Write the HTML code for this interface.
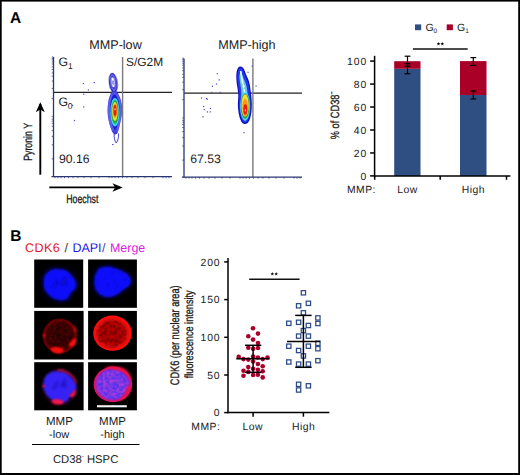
<!DOCTYPE html>
<html><head><meta charset="utf-8">
<style>
html,body{margin:0;padding:0;background:#fff;}
body{width:520px;height:475px;overflow:hidden;position:relative;}
svg{position:absolute;left:0;top:0;}
text{font-family:"Liberation Sans",sans-serif;fill:#1a1a1a;text-rendering:geometricPrecision;}
.nb{stroke:#1a1a1a;stroke-width:0.3px;}
.dg{letter-spacing:0.9px;}
.lb{letter-spacing:0.45px;}
</style></head>
<body>
<svg width="520" height="475" viewBox="0 0 520 475">
<defs>
  <filter id="bl1" x="-30%" y="-30%" width="160%" height="160%"><feGaussianBlur stdDeviation="0.6"/></filter>
  <filter id="bl15" x="-30%" y="-30%" width="160%" height="160%"><feGaussianBlur stdDeviation="0.9"/></filter>
  <filter id="er1" x="-30%" y="-30%" width="160%" height="160%"><feMorphology operator="erode" radius="1.2"/><feGaussianBlur stdDeviation="0.4"/></filter>
  <filter id="er2" x="-30%" y="-30%" width="160%" height="160%"><feMorphology operator="erode" radius="2.6"/><feGaussianBlur stdDeviation="0.5"/></filter>
  <filter id="er3" x="-30%" y="-30%" width="160%" height="160%"><feMorphology operator="erode" radius="3.2"/><feGaussianBlur stdDeviation="0.6"/></filter>
  <filter id="bl05" x="-30%" y="-30%" width="160%" height="160%"><feGaussianBlur stdDeviation="0.4"/></filter>
  <filter id="bl2" x="-30%" y="-30%" width="160%" height="160%"><feGaussianBlur stdDeviation="1.2"/></filter>
  <filter id="bl3" x="-30%" y="-30%" width="160%" height="160%"><feGaussianBlur stdDeviation="2"/></filter>
  <filter id="tex" x="-20%" y="-20%" width="140%" height="140%">
    <feTurbulence type="fractalNoise" baseFrequency="0.45" numOctaves="2" seed="4" result="n"/>
    <feColorMatrix in="n" type="matrix" values="0 0 0 0 0  0 0 0 0 0  0 0 0 0 0  2.2 0 0 0 -0.6" result="na"/>
    <feComposite in="SourceGraphic" in2="na" operator="in" result="c"/>
    <feGaussianBlur in="c" stdDeviation="0.5"/>
  </filter>
  <filter id="tex2" x="-20%" y="-20%" width="140%" height="140%">
    <feGaussianBlur in="SourceGraphic" stdDeviation="1.2" result="b"/>
    <feTurbulence type="fractalNoise" baseFrequency="0.3" numOctaves="2" seed="7" result="n"/>
    <feColorMatrix in="n" type="matrix" values="0 0 0 0 0  0 0 0 0 0  0 0 0 0 0  1.8 0 0 0 -0.55" result="na"/>
    <feComposite in="b" in2="na" operator="in" result="c"/>
    <feGaussianBlur in="c" stdDeviation="0.7"/>
  </filter>
  <filter id="tex3" x="-20%" y="-20%" width="140%" height="140%">
    <feGaussianBlur in="SourceGraphic" stdDeviation="1.2" result="b"/>
    <feTurbulence type="fractalNoise" baseFrequency="0.3" numOctaves="2" seed="11" result="n"/>
    <feColorMatrix in="n" type="matrix" values="0 0 0 0 0  0 0 0 0 0  0 0 0 0 0  1.8 0 0 0 -0.5" result="na"/>
    <feComposite in="b" in2="na" operator="in" result="c"/>
    <feGaussianBlur in="c" stdDeviation="0.7"/>
  </filter>
  <radialGradient id="rg1"><stop offset="0" stop-color="#1c0000"/><stop offset="0.75" stop-color="#2a0000"/><stop offset="0.9" stop-color="#700000"/><stop offset="1" stop-color="#580000"/></radialGradient>
  <radialGradient id="rg2"><stop offset="0" stop-color="#b00000"/><stop offset="0.7" stop-color="#c00606"/><stop offset="0.86" stop-color="#f01010"/><stop offset="1" stop-color="#ff1010"/></radialGradient>
  <radialGradient id="rg3"><stop offset="0" stop-color="#4a30f0"/><stop offset="0.8" stop-color="#5a30ea"/><stop offset="0.9" stop-color="#c01890"/><stop offset="1" stop-color="#e81048"/></radialGradient>
  <filter id="tex4" x="-20%" y="-20%" width="140%" height="140%">
    <feGaussianBlur in="SourceGraphic" stdDeviation="1.2" result="b"/>
    <feTurbulence type="fractalNoise" baseFrequency="0.28" numOctaves="2" seed="21" result="n"/>
    <feColorMatrix in="n" type="matrix" values="0 0 0 0 0  0 0 0 0 0  0 0 0 0 0  2.2 0 0 0 -0.75" result="na"/>
    <feComposite in="b" in2="na" operator="in" result="c"/>
    <feGaussianBlur in="c" stdDeviation="0.6"/>
  </filter>
  <marker id="ah" viewBox="0 0 10 10" refX="9" refY="5" markerWidth="10" markerHeight="9" markerUnits="userSpaceOnUse" orient="auto">
    <path d="M0,0 L10,5 L0,10 L3,5 Z" fill="#000"/>
  </marker>
</defs>
<rect x="0" y="0" width="520" height="475" fill="#fff"/>

<!-- ============ PANEL A ============ -->
<text x="9.9" y="22.8" font-size="15.5" font-weight="bold" style="fill:#000">A</text>

<!-- titles -->
<text x="115.5" y="48.9" font-size="12.6" text-anchor="middle">MMP-low</text>
<text x="246.9" y="48.8" font-size="12.6" text-anchor="middle">MMP-high</text>

<!-- Flow plot 1 -->
<g id="fp1">
  <!-- gates -->
  <line x1="53.5" y1="92.4" x2="172" y2="92.4" stroke="#222" stroke-width="1.2"/>
  <line x1="122.6" y1="57" x2="122.6" y2="176.5" stroke="#7a7a7a" stroke-width="1.4"/>
  <!-- axes -->
  <line x1="53.5" y1="57" x2="53.5" y2="177" stroke="#2a3572" stroke-width="1.3"/>
  <line x1="51.5" y1="176.6" x2="172" y2="176.6" stroke="#2a3572" stroke-width="1.3"/>
  <g stroke="#2a3572" stroke-width="0.7"><line x1="51.7" y1="57.0" x2="53.5" y2="57.0"/>
<line x1="51.7" y1="58.5" x2="53.5" y2="58.5"/>
<line x1="51.7" y1="60.0" x2="53.5" y2="60.0"/>
<line x1="51.7" y1="62.0" x2="53.5" y2="62.0"/>
<line x1="51.7" y1="64.0" x2="53.5" y2="64.0"/>
<line x1="51.7" y1="66.8" x2="53.5" y2="66.8"/>
<line x1="51.7" y1="69.5" x2="53.5" y2="69.5"/>
<line x1="51.7" y1="72.9" x2="53.5" y2="72.9"/>
<line x1="51.7" y1="76.2" x2="53.5" y2="76.2"/>
<line x1="51.7" y1="81.0" x2="53.5" y2="81.0"/>
<line x1="51.7" y1="88.4" x2="53.5" y2="88.4"/>
<line x1="51.7" y1="98.5" x2="53.5" y2="98.5"/>
<line x1="51.7" y1="116.7" x2="53.5" y2="116.7"/>
<line x1="51.7" y1="119.2" x2="53.5" y2="119.2"/>
<line x1="51.7" y1="121.1" x2="53.5" y2="121.1"/>
<line x1="51.7" y1="123.3" x2="53.5" y2="123.3"/>
<line x1="51.7" y1="126.3" x2="53.5" y2="126.3"/>
<line x1="51.7" y1="130.4" x2="53.5" y2="130.4"/>
<line x1="51.7" y1="136.4" x2="53.5" y2="136.4"/>
<line x1="51.7" y1="144.8" x2="53.5" y2="144.8"/>
<line x1="51.7" y1="158.9" x2="53.5" y2="158.9"/>
<line x1="55.0" y1="176.6" x2="55.0" y2="178.2"/>
<line x1="58.0" y1="176.6" x2="58.0" y2="178.2"/>
<line x1="61.0" y1="176.6" x2="61.0" y2="178.2"/>
<line x1="64.5" y1="176.6" x2="64.5" y2="178.2"/>
<line x1="68.5" y1="176.6" x2="68.5" y2="178.2"/>
<line x1="73.0" y1="176.6" x2="73.0" y2="178.2"/>
<line x1="78.0" y1="176.6" x2="78.0" y2="178.2"/>
<line x1="84.0" y1="176.6" x2="84.0" y2="178.2"/>
<line x1="91.0" y1="176.6" x2="91.0" y2="178.2"/>
<line x1="99.0" y1="176.6" x2="99.0" y2="178.2"/>
<line x1="109.0" y1="176.6" x2="109.0" y2="178.2"/>
<line x1="112.0" y1="176.6" x2="112.0" y2="178.2"/>
<line x1="115.0" y1="176.6" x2="115.0" y2="178.2"/>
<line x1="118.5" y1="176.6" x2="118.5" y2="178.2"/>
<line x1="122.5" y1="176.6" x2="122.5" y2="178.2"/>
<line x1="127.0" y1="176.6" x2="127.0" y2="178.2"/>
<line x1="132.0" y1="176.6" x2="132.0" y2="178.2"/>
<line x1="138.0" y1="176.6" x2="138.0" y2="178.2"/>
<line x1="145.0" y1="176.6" x2="145.0" y2="178.2"/>
<line x1="153.0" y1="176.6" x2="153.0" y2="178.2"/>
<line x1="163.0" y1="176.6" x2="163.0" y2="178.2"/>
<line x1="166.0" y1="176.6" x2="166.0" y2="178.2"/>
<line x1="169.0" y1="176.6" x2="169.0" y2="178.2"/></g>
  <!-- blob -->
<g>
  <g transform="rotate(-7 113.2 82.5)">
    <ellipse cx="113.2" cy="82.8" rx="4.4" ry="10.1" fill="#2626c8" filter="url(#bl05)"/>
    <ellipse cx="113.2" cy="82.6" rx="3.1" ry="8.4" fill="#7c7ce8" filter="url(#bl05)"/>
    <ellipse cx="113.2" cy="82.5" rx="2.4" ry="6.9" fill="#3a3ad0" filter="url(#bl05)"/>
    <ellipse cx="113.1" cy="82.2" rx="1.6" ry="5.0" fill="#ffffff" filter="url(#bl05)"/>
    <ellipse cx="113.1" cy="82.6" rx="0.6" ry="2.1" fill="none" stroke="#4040d4" stroke-width="0.6"/>
  </g>
  <path d="M112.00,91.60 C112.67,90.92 113.45,90.90 114.20,90.90 C114.95,90.90 115.73,90.92 116.50,91.60 C117.27,92.28 118.08,93.60 118.80,95.00 C119.52,96.40 120.28,98.17 120.80,100.00 C121.32,101.83 121.70,104.00 121.90,106.00 C122.10,108.00 122.12,110.00 122.00,112.00 C121.88,114.00 121.53,116.00 121.20,118.00 C120.87,120.00 120.43,122.08 120.00,124.00 C119.57,125.92 119.05,127.95 118.60,129.50 C118.15,131.05 117.87,132.48 117.30,133.30 C116.73,134.12 115.88,134.40 115.20,134.40 C114.52,134.40 113.85,134.12 113.20,133.30 C112.55,132.48 111.92,131.05 111.30,129.50 C110.68,127.95 110.02,125.92 109.50,124.00 C108.98,122.08 108.52,120.00 108.20,118.00 C107.88,116.00 107.67,114.00 107.60,112.00 C107.53,110.00 107.63,108.00 107.80,106.00 C107.97,104.00 108.20,101.83 108.60,100.00 C109.00,98.17 109.63,96.40 110.20,95.00 C110.77,93.60 111.33,92.28 112.00,91.60 Z" fill="#1a1ad8" filter="url(#bl05)"/>
  <path d="M112.20,92.43 C112.82,91.78 113.54,91.76 114.24,91.76 C114.94,91.76 115.67,91.78 116.38,92.43 C117.09,93.08 117.85,94.34 118.52,95.67 C119.19,97.01 119.90,98.70 120.38,100.45 C120.86,102.20 121.22,104.27 121.40,106.18 C121.59,108.09 121.60,110.00 121.50,111.91 C121.39,113.82 121.06,115.73 120.75,117.64 C120.44,119.55 120.04,121.54 119.64,123.37 C119.23,125.20 118.75,127.14 118.33,128.62 C117.92,130.10 117.65,131.47 117.12,132.25 C116.60,133.03 115.81,133.30 115.17,133.30 C114.54,133.30 113.92,133.03 113.31,132.25 C112.71,131.47 112.12,130.10 111.55,128.62 C110.97,127.14 110.35,125.20 109.87,123.37 C109.39,121.54 108.96,119.55 108.66,117.64 C108.37,115.73 108.17,113.82 108.10,111.91 C108.04,110.00 108.13,108.09 108.29,106.18 C108.44,104.27 108.66,102.20 109.03,100.45 C109.41,98.70 110.00,97.01 110.52,95.67 C111.05,94.34 111.58,93.08 112.20,92.43 Z" fill="none" stroke="#8a8af0" stroke-width="0.45"/>
  <path d="M112.39,93.26 C112.97,92.63 113.64,92.62 114.28,92.62 C114.93,92.62 115.60,92.63 116.26,93.26 C116.92,93.88 117.62,95.08 118.24,96.35 C118.86,97.62 119.52,99.23 119.96,100.90 C120.40,102.57 120.73,104.54 120.91,106.36 C121.08,108.18 121.09,110.00 120.99,111.82 C120.89,113.64 120.59,115.46 120.30,117.28 C120.02,119.10 119.64,121.00 119.27,122.74 C118.90,124.48 118.45,126.33 118.07,127.75 C117.68,129.16 117.44,130.46 116.95,131.20 C116.46,131.95 115.73,132.20 115.14,132.20 C114.56,132.20 113.98,131.95 113.42,131.20 C112.87,130.46 112.32,129.16 111.79,127.75 C111.26,126.33 110.69,124.48 110.24,122.74 C109.80,121.00 109.40,119.10 109.12,117.28 C108.85,115.46 108.67,113.64 108.61,111.82 C108.55,110.00 108.64,108.18 108.78,106.36 C108.92,104.54 109.12,102.57 109.47,100.90 C109.81,99.23 110.36,97.62 110.84,96.35 C111.33,95.08 111.82,93.88 112.39,93.26 Z" fill="none" stroke="#8a8af0" stroke-width="0.45"/>
  <path d="M112.59,94.08 C113.11,93.49 113.73,93.48 114.33,93.48 C114.92,93.48 115.54,93.49 116.14,94.08 C116.75,94.68 117.39,95.81 117.96,97.03 C118.53,98.24 119.13,99.76 119.54,101.35 C119.95,102.94 120.25,104.81 120.41,106.54 C120.57,108.27 120.58,110.00 120.49,111.73 C120.40,113.46 120.12,115.19 119.86,116.92 C119.59,118.65 119.25,120.45 118.91,122.11 C118.57,123.77 118.16,125.53 117.80,126.87 C117.45,128.21 117.22,129.45 116.77,130.15 C116.33,130.86 115.66,131.11 115.12,131.11 C114.58,131.11 114.05,130.86 113.54,130.15 C113.02,129.45 112.52,128.21 112.03,126.87 C111.55,125.53 111.02,123.77 110.61,122.11 C110.20,120.45 109.84,118.65 109.59,116.92 C109.34,115.19 109.16,113.46 109.11,111.73 C109.06,110.00 109.14,108.27 109.27,106.54 C109.40,104.81 109.59,102.94 109.90,101.35 C110.22,99.76 110.72,98.24 111.17,97.03 C111.61,95.81 112.06,94.68 112.59,94.08 Z" fill="none" stroke="#8a8af0" stroke-width="0.45"/>
  <path d="M112.78,94.91 C113.26,94.35 113.83,94.34 114.37,94.34 C114.91,94.34 115.47,94.35 116.02,94.91 C116.58,95.47 117.16,96.55 117.68,97.70 C118.20,98.85 118.75,100.30 119.12,101.80 C119.49,103.30 119.77,105.08 119.91,106.72 C120.06,108.36 120.07,110.00 119.98,111.64 C119.90,113.28 119.65,114.92 119.41,116.56 C119.17,118.20 118.86,119.91 118.54,121.48 C118.23,123.05 117.86,124.72 117.54,125.99 C117.21,127.26 117.01,128.44 116.60,129.11 C116.19,129.78 115.58,130.01 115.09,130.01 C114.60,130.01 114.12,129.78 113.65,129.11 C113.18,128.44 112.72,127.26 112.28,125.99 C111.84,124.72 111.36,123.05 110.98,121.48 C110.61,119.91 110.28,118.20 110.05,116.56 C109.82,114.92 109.66,113.28 109.62,111.64 C109.57,110.00 109.64,108.36 109.76,106.72 C109.88,105.08 110.05,103.30 110.34,101.80 C110.62,100.30 111.08,98.85 111.49,97.70 C111.90,96.55 112.30,95.47 112.78,94.91 Z" fill="none" stroke="#8a8af0" stroke-width="0.45"/>
  <ellipse cx="114.9" cy="112.2" rx="4.6" ry="14.2" fill="#38d6f0" filter="url(#bl05)"/>
  <ellipse cx="115" cy="112" rx="3.6" ry="12" fill="#2aa838" filter="url(#bl05)"/>
  <ellipse cx="114.9" cy="111.5" rx="2.7" ry="9.5" fill="#f2e22a" filter="url(#bl05)"/>
  <ellipse cx="115" cy="111" rx="2.1" ry="7.2" fill="#ff8a18" filter="url(#bl05)"/>
  <ellipse cx="115" cy="110.5" rx="1.5" ry="5.4" fill="#ee1414" filter="url(#bl05)"/>
  <ellipse cx="115" cy="109.2" rx="0.6" ry="1.3" fill="#ffb8c8"/>
  <path d="M114.3,133.5 C113.8,137 114.5,141 116.2,143 C118,141 118.8,137 118.6,133.5" fill="none" stroke="#3030d0" stroke-width="0.9"/>
  <circle cx="112.8" cy="144.6" r="0.5" fill="#6060d0"/>
</g>
  <text x="58.4" y="65.9" font-size="12.3">G</text><text x="68" y="68.7" font-size="8.5">1</text>
  <text x="58.4" y="106" font-size="12.3">G</text><text x="67.8" y="109.1" font-size="8.5">0</text>
  <text x="126.1" y="65.7" font-size="11.9">S/G2M</text>
  <text x="59" y="163" font-size="12.2">90.16</text>
</g>

<!-- Flow plot 2 -->
<g id="fp2">
  <line x1="184" y1="93.1" x2="302" y2="93.1" stroke="#222" stroke-width="1.2"/>
  <line x1="252.9" y1="58.5" x2="252.9" y2="177" stroke="#7a7a7a" stroke-width="1.4"/>
  <line x1="184" y1="58.5" x2="184" y2="177.5" stroke="#2a3572" stroke-width="1.3"/>
  <line x1="182" y1="177.1" x2="302" y2="177.1" stroke="#2a3572" stroke-width="1.3"/>
  <g stroke="#2a3572" stroke-width="0.7"><line x1="182.2" y1="58.2" x2="184" y2="58.2"/>
<line x1="182.2" y1="59.7" x2="184" y2="59.7"/>
<line x1="182.2" y1="61.2" x2="184" y2="61.2"/>
<line x1="182.2" y1="63.2" x2="184" y2="63.2"/>
<line x1="182.2" y1="65.2" x2="184" y2="65.2"/>
<line x1="182.2" y1="68.0" x2="184" y2="68.0"/>
<line x1="182.2" y1="70.7" x2="184" y2="70.7"/>
<line x1="182.2" y1="74.1" x2="184" y2="74.1"/>
<line x1="182.2" y1="77.4" x2="184" y2="77.4"/>
<line x1="182.2" y1="82.2" x2="184" y2="82.2"/>
<line x1="182.2" y1="89.6" x2="184" y2="89.6"/>
<line x1="182.2" y1="99.7" x2="184" y2="99.7"/>
<line x1="182.2" y1="117.9" x2="184" y2="117.9"/>
<line x1="182.2" y1="120.4" x2="184" y2="120.4"/>
<line x1="182.2" y1="122.3" x2="184" y2="122.3"/>
<line x1="182.2" y1="124.5" x2="184" y2="124.5"/>
<line x1="182.2" y1="127.5" x2="184" y2="127.5"/>
<line x1="182.2" y1="131.6" x2="184" y2="131.6"/>
<line x1="182.2" y1="137.6" x2="184" y2="137.6"/>
<line x1="182.2" y1="146.0" x2="184" y2="146.0"/>
<line x1="182.2" y1="160.1" x2="184" y2="160.1"/>
<line x1="186.0" y1="177.1" x2="186.0" y2="178.7"/>
<line x1="189.0" y1="177.1" x2="189.0" y2="178.7"/>
<line x1="192.0" y1="177.1" x2="192.0" y2="178.7"/>
<line x1="195.5" y1="177.1" x2="195.5" y2="178.7"/>
<line x1="199.5" y1="177.1" x2="199.5" y2="178.7"/>
<line x1="204.0" y1="177.1" x2="204.0" y2="178.7"/>
<line x1="209.0" y1="177.1" x2="209.0" y2="178.7"/>
<line x1="215.0" y1="177.1" x2="215.0" y2="178.7"/>
<line x1="222.0" y1="177.1" x2="222.0" y2="178.7"/>
<line x1="230.0" y1="177.1" x2="230.0" y2="178.7"/>
<line x1="240.0" y1="177.1" x2="240.0" y2="178.7"/>
<line x1="243.0" y1="177.1" x2="243.0" y2="178.7"/>
<line x1="246.0" y1="177.1" x2="246.0" y2="178.7"/>
<line x1="249.5" y1="177.1" x2="249.5" y2="178.7"/>
<line x1="253.5" y1="177.1" x2="253.5" y2="178.7"/>
<line x1="258.0" y1="177.1" x2="258.0" y2="178.7"/>
<line x1="263.0" y1="177.1" x2="263.0" y2="178.7"/>
<line x1="269.0" y1="177.1" x2="269.0" y2="178.7"/>
<line x1="276.0" y1="177.1" x2="276.0" y2="178.7"/>
<line x1="284.0" y1="177.1" x2="284.0" y2="178.7"/>
<line x1="294.0" y1="177.1" x2="294.0" y2="178.7"/>
<line x1="297.0" y1="177.1" x2="297.0" y2="178.7"/>
<line x1="300.0" y1="177.1" x2="300.0" y2="178.7"/></g>
<g>
  <path d="M240.40,66.50 C241.18,66.55 242.27,67.05 243.00,67.80 C243.73,68.55 244.22,69.72 244.80,71.00 C245.38,72.28 245.88,74.00 246.50,75.50 C247.12,77.00 247.95,78.42 248.50,80.00 C249.05,81.58 249.47,83.33 249.80,85.00 C250.13,86.67 250.25,88.17 250.50,90.00 C250.75,91.83 251.08,93.83 251.30,96.00 C251.52,98.17 251.75,100.67 251.80,103.00 C251.85,105.33 251.82,107.67 251.60,110.00 C251.38,112.33 251.05,114.95 250.50,117.00 C249.95,119.05 249.17,121.13 248.30,122.30 C247.43,123.47 246.35,123.97 245.30,124.00 C244.25,124.03 242.97,123.67 242.00,122.50 C241.03,121.33 240.13,119.08 239.50,117.00 C238.87,114.92 238.47,112.33 238.20,110.00 C237.93,107.67 237.88,105.33 237.90,103.00 C237.92,100.67 238.32,98.17 238.30,96.00 C238.28,93.83 238.05,92.00 237.80,90.00 C237.55,88.00 237.05,86.17 236.80,84.00 C236.55,81.83 236.30,79.17 236.30,77.00 C236.30,74.83 236.47,72.58 236.80,71.00 C237.13,69.42 237.70,68.25 238.30,67.50 C238.90,66.75 239.62,66.45 240.40,66.50 Z" fill="#1010bc" filter="url(#bl05)"/>
  <path d="M240.40,66.50 C241.18,66.55 242.27,67.05 243.00,67.80 C243.73,68.55 244.22,69.72 244.80,71.00 C245.38,72.28 245.88,74.00 246.50,75.50 C247.12,77.00 247.95,78.42 248.50,80.00 C249.05,81.58 249.47,83.33 249.80,85.00 C250.13,86.67 250.25,88.17 250.50,90.00 C250.75,91.83 251.08,93.83 251.30,96.00 C251.52,98.17 251.75,100.67 251.80,103.00 C251.85,105.33 251.82,107.67 251.60,110.00 C251.38,112.33 251.05,114.95 250.50,117.00 C249.95,119.05 249.17,121.13 248.30,122.30 C247.43,123.47 246.35,123.97 245.30,124.00 C244.25,124.03 242.97,123.67 242.00,122.50 C241.03,121.33 240.13,119.08 239.50,117.00 C238.87,114.92 238.47,112.33 238.20,110.00 C237.93,107.67 237.88,105.33 237.90,103.00 C237.92,100.67 238.32,98.17 238.30,96.00 C238.28,93.83 238.05,92.00 237.80,90.00 C237.55,88.00 237.05,86.17 236.80,84.00 C236.55,81.83 236.30,79.17 236.30,77.00 C236.30,74.83 236.47,72.58 236.80,71.00 C237.13,69.42 237.70,68.25 238.30,67.50 C238.90,66.75 239.62,66.45 240.40,66.50 Z" fill="#2038f4" filter="url(#er1)"/>
  <path d="M240.40,66.50 C241.18,66.55 242.27,67.05 243.00,67.80 C243.73,68.55 244.22,69.72 244.80,71.00 C245.38,72.28 245.88,74.00 246.50,75.50 C247.12,77.00 247.95,78.42 248.50,80.00 C249.05,81.58 249.47,83.33 249.80,85.00 C250.13,86.67 250.25,88.17 250.50,90.00 C250.75,91.83 251.08,93.83 251.30,96.00 C251.52,98.17 251.75,100.67 251.80,103.00 C251.85,105.33 251.82,107.67 251.60,110.00 C251.38,112.33 251.05,114.95 250.50,117.00 C249.95,119.05 249.17,121.13 248.30,122.30 C247.43,123.47 246.35,123.97 245.30,124.00 C244.25,124.03 242.97,123.67 242.00,122.50 C241.03,121.33 240.13,119.08 239.50,117.00 C238.87,114.92 238.47,112.33 238.20,110.00 C237.93,107.67 237.88,105.33 237.90,103.00 C237.92,100.67 238.32,98.17 238.30,96.00 C238.28,93.83 238.05,92.00 237.80,90.00 C237.55,88.00 237.05,86.17 236.80,84.00 C236.55,81.83 236.30,79.17 236.30,77.00 C236.30,74.83 236.47,72.58 236.80,71.00 C237.13,69.42 237.70,68.25 238.30,67.50 C238.90,66.75 239.62,66.45 240.40,66.50 Z" fill="#68c8f8" filter="url(#er2)"/>
  <path d="M240.6,71 C241.5,76 242.5,82 243.6,88 C244.2,90 244.6,92 245,94" fill="none" stroke="#e8fcff" stroke-width="1.6" filter="url(#bl05)"/>
  <ellipse cx="243.7" cy="86.2" rx="1.5" ry="2.6" fill="none" stroke="#70d070" stroke-width="0.7" filter="url(#bl05)"/>
  <ellipse cx="243.7" cy="86.2" rx="0.9" ry="1.8" fill="#ffffff"/>
  <ellipse cx="245.1" cy="106.5" rx="5.0" ry="14.2" fill="#50d8f0" filter="url(#bl05)"/>
  <ellipse cx="245.1" cy="106" rx="4.3" ry="12.6" fill="#2aa030" filter="url(#bl05)"/>
  <ellipse cx="245.1" cy="105.5" rx="3.6" ry="11.2" fill="#f0e030" filter="url(#bl05)"/>
  <ellipse cx="245.2" cy="107.5" rx="2.8" ry="8.7" fill="#ff9420" filter="url(#bl05)"/>
  <ellipse cx="245.3" cy="109.5" rx="1.9" ry="5.2" fill="#ee1414" filter="url(#bl05)"/>
  <ellipse cx="245.5" cy="110.3" rx="0.6" ry="1.2" fill="#ffc0d0"/>
</g>
  <text x="190.2" y="162.5" font-size="12.2">67.53</text>
</g>

<g fill="#4a4ad0"><rect x="82.8" y="83.0" width="1.2" height="1.2"/><rect x="93.7" y="82.0" width="1.2" height="1.2"/><rect x="87.8" y="89.4" width="1.2" height="1.2"/><rect x="83.1" y="93.6" width="1.2" height="1.2"/><rect x="72.0" y="104.8" width="1.2" height="1.2"/><rect x="83.1" y="106.3" width="1.2" height="1.2"/><rect x="73.9" y="119.9" width="1.2" height="1.2"/><rect x="112.2" y="144.0" width="1.2" height="1.2"/><rect x="216.7" y="73.1" width="1.2" height="1.2"/><rect x="218.5" y="79.3" width="1.2" height="1.2"/><rect x="215.9" y="83.4" width="1.2" height="1.2"/><rect x="211.8" y="85.7" width="1.2" height="1.2"/><rect x="211.2" y="91.8" width="1.2" height="1.2"/><rect x="219.6" y="91.8" width="1.2" height="1.2"/><rect x="200.9" y="97.4" width="1.2" height="1.2"/><rect x="205.9" y="98.0" width="1.2" height="1.2"/><rect x="206.7" y="98.6" width="1.2" height="1.2"/><rect x="203.0" y="105.9" width="1.2" height="1.2"/><rect x="203.6" y="109.0" width="1.2" height="1.2"/><rect x="209.8" y="107.8" width="1.2" height="1.2"/><rect x="206.8" y="111.3" width="1.2" height="1.2"/><rect x="209.5" y="111.3" width="1.2" height="1.2"/><rect x="202.4" y="116.2" width="1.2" height="1.2"/><rect x="247.4" y="71.7" width="1.2" height="1.2"/><rect x="255.5" y="85.4" width="1.2" height="1.2"/><rect x="251.6" y="65.6" width="1.2" height="1.2"/><rect x="243.4" y="132.0" width="1.2" height="1.2"/></g>
<!-- Axis arrows -->
<line x1="40.3" y1="174.7" x2="40.3" y2="104" stroke="#000" stroke-width="1.9"/>
<path d="M40.3,102.2 L44.8,112.3 L40.3,109.5 L35.8,112.3 Z" fill="#000"/>
<line x1="49.3" y1="187.4" x2="120" y2="187.4" stroke="#000" stroke-width="1.9"/>
<path d="M122.7,187.4 L112.4,183.2 L115.2,187.4 L112.4,191.8 Z" fill="#000"/>
<text transform="translate(32.3,141.9) rotate(-90) scale(0.73,1)" font-size="12" text-anchor="middle" class="nb">Pyronin Y</text>
<text transform="translate(82.3,203.1) scale(0.73,1)" font-size="12" text-anchor="middle" class="nb">Hoechst</text>

<!-- Bar chart -->
<g id="bar">
  <!-- legend -->
  <rect x="415" y="24.4" width="6.2" height="5.8" fill="#2f4e82"/>
  <text x="425.4" y="30.8" font-size="10.5">G</text><text x="433.5" y="32.6" font-size="6.5">0</text>
  <rect x="446.7" y="24.4" width="6.2" height="5.8" fill="#aa0028"/>
  <text x="457.1" y="30.8" font-size="10.5">G</text><text x="465.2" y="32.6" font-size="6.5">1</text>
  <!-- sig -->
  <line x1="412.9" y1="49.1" x2="467.7" y2="49.1" stroke="#111" stroke-width="1.5"/>
  <polygon points="438.50,41.90 439.00,43.11 440.31,43.21 439.31,44.06 439.62,45.34 438.50,44.65 437.38,45.34 437.69,44.06 436.69,43.21 438.00,43.11" fill="#111"/><polygon points="442.30,41.90 442.80,43.11 444.11,43.21 443.11,44.06 443.42,45.34 442.30,44.65 441.18,45.34 441.49,44.06 440.49,43.21 441.80,43.11" fill="#111"/>
  <!-- bars -->
  <rect x="394.2" y="68.8" width="26.3" height="107.2" fill="#2f4e82"/>
  <rect x="394.2" y="61.2" width="26.3" height="7.6" fill="#aa0028"/>
  <rect x="460" y="95" width="26.5" height="81" fill="#2f4e82"/>
  <rect x="460" y="61.1" width="26.5" height="33.9" fill="#aa0028"/>
  <!-- errors -->
  <g stroke="#000" stroke-width="1.2">
    <line x1="407.5" y1="56.2" x2="407.5" y2="73.7"/>
    <line x1="404.6" y1="56.2" x2="410.4" y2="56.2"/>
    <line x1="404.6" y1="63.7" x2="410.4" y2="63.7"/>
    <line x1="404.6" y1="66.2" x2="410.4" y2="66.2"/>
    <line x1="404.6" y1="73.7" x2="410.4" y2="73.7"/>
    <line x1="473.3" y1="57.6" x2="473.3" y2="65.4"/>
    <line x1="470.4" y1="57.6" x2="476.2" y2="57.6"/>
    <line x1="470.4" y1="65.4" x2="476.2" y2="65.4"/>
    <line x1="473.3" y1="91" x2="473.3" y2="99"/>
    <line x1="470.4" y1="91" x2="476.2" y2="91"/>
    <line x1="470.4" y1="99" x2="476.2" y2="99"/>
  </g>
  <!-- axes -->
  <g stroke="#000" stroke-width="1.5">
    <line x1="374.6" y1="55.8" x2="374.6" y2="176.7"/>
    <line x1="373.8" y1="176" x2="510.4" y2="176"/>
    <line x1="370.1" y1="61.1" x2="374.6" y2="61.1"/>
    <line x1="370.1" y1="84.06" x2="374.6" y2="84.06"/>
    <line x1="370.1" y1="107.02" x2="374.6" y2="107.02"/>
    <line x1="370.1" y1="129.98" x2="374.6" y2="129.98"/>
    <line x1="370.1" y1="152.94" x2="374.6" y2="152.94"/>
    <line x1="370.1" y1="175.9" x2="374.6" y2="175.9"/>
    <line x1="374.7" y1="176" x2="374.7" y2="179.8"/>
    <line x1="440.2" y1="176" x2="440.2" y2="179.8"/>
    <line x1="506.5" y1="176" x2="506.5" y2="179.8"/>
  </g>
  <g font-size="10.4" text-anchor="end" class="dg">
    <text x="367.1" y="64.7">100</text>
    <text x="367.1" y="87.7">80</text>
    <text x="367.1" y="110.6">60</text>
    <text x="367.1" y="133.6">40</text>
    <text x="367.1" y="156.5">20</text>
    <text x="367.1" y="179.5">0</text>
  </g>
  <text transform="translate(338.9,115.3) rotate(-90) scale(0.768,1)" font-size="12" text-anchor="middle" class="nb">% of CD38<tspan font-size="7" dy="-5">−</tspan></text>
  <text class="lb" x="347" y="193" font-size="10.4">MMP:</text>
  <text class="lb" x="407.4" y="193" font-size="10.4" text-anchor="middle">Low</text>
  <text class="lb" x="473.3" y="193" font-size="10.4" text-anchor="middle">High</text>
</g>

<!-- ============ PANEL B ============ -->
<text x="10.3" y="240.8" font-size="15.5" font-weight="bold" style="fill:#000">B</text>
<g font-size="12.5">
<text x="25.0" y="251.8" style="fill:#e3141c;letter-spacing:0.45px">CDK6</text>
<text x="64.6" y="251.8" style="fill:#333">/</text>
<text x="72.4" y="251.8" style="fill:#1a1aee">DAPI</text>
<text x="102.0" y="251.8" style="fill:#3a3aa8">/</text>
<text x="109.9" y="251.8" style="fill:#dd1adf">Merge</text>
</g>

<!-- cells -->
<g id="cells">
  <rect x="34.2" y="259.5" width="49" height="48.3" fill="#000"/>
  <rect x="88.1" y="259.5" width="48.8" height="48.3" fill="#000"/>
  <rect x="34.2" y="310.9" width="49.4" height="48.6" fill="#000"/>
  <rect x="88.1" y="310.9" width="48.8" height="48.6" fill="#000"/>
  <rect x="34.2" y="362.2" width="49.4" height="48.1" fill="#000"/>
  <rect x="88.1" y="362.2" width="48.8" height="48.1" fill="#000"/>
  <!-- row1 DAPI -->
  <g filter="url(#bl3)" opacity="0.35">
    <path d="M56.60,269.00 C58.27,268.90 59.90,269.23 61.40,269.50 C62.90,269.77 64.20,269.90 65.60,270.60 C67.00,271.30 68.48,272.48 69.80,273.70 C71.12,274.92 72.53,276.48 73.50,277.90 C74.47,279.32 75.17,280.88 75.60,282.20 C76.03,283.52 76.28,284.58 76.10,285.80 C75.92,287.02 75.28,288.43 74.50,289.50 C73.72,290.57 72.27,291.23 71.40,292.20 C70.53,293.17 69.92,294.25 69.30,295.30 C68.68,296.35 68.67,297.70 67.70,298.50 C66.73,299.30 64.90,299.83 63.50,300.10 C62.10,300.37 60.88,300.37 59.30,300.10 C57.72,299.83 55.58,299.22 54.00,298.50 C52.42,297.78 51.12,296.95 49.80,295.80 C48.48,294.65 47.07,293.08 46.10,291.60 C45.13,290.12 44.40,288.47 44.00,286.90 C43.60,285.33 43.62,283.87 43.70,282.20 C43.78,280.53 43.92,278.48 44.50,276.90 C45.08,275.32 46.05,273.83 47.20,272.70 C48.35,271.57 49.83,270.72 51.40,270.10 C52.97,269.48 54.93,269.10 56.60,269.00 Z" fill="#0a10c0" transform="translate(60,285) scale(1.12) translate(-60,-285)"/>
    <path d="M99.60,268.30 C100.92,267.52 102.97,267.08 104.90,266.90 C106.83,266.72 109.27,266.88 111.20,267.20 C113.13,267.52 114.78,268.20 116.50,268.80 C118.22,269.40 119.92,270.07 121.50,270.80 C123.08,271.53 124.70,272.27 126.00,273.20 C127.30,274.13 128.52,275.25 129.30,276.40 C130.08,277.55 130.55,278.85 130.70,280.10 C130.85,281.35 130.65,282.83 130.20,283.90 C129.75,284.97 128.88,285.73 128.00,286.50 C127.12,287.27 125.95,287.75 124.90,288.50 C123.85,289.25 122.75,290.18 121.70,291.00 C120.65,291.82 119.73,292.67 118.60,293.40 C117.47,294.13 116.22,294.82 114.90,295.40 C113.58,295.98 112.20,296.65 110.70,296.90 C109.20,297.15 107.40,297.17 105.90,296.90 C104.40,296.63 103.00,296.00 101.70,295.30 C100.40,294.60 99.15,293.83 98.10,292.70 C97.05,291.57 96.02,290.08 95.40,288.50 C94.78,286.92 94.48,285.13 94.40,283.20 C94.32,281.27 94.47,278.83 94.90,276.90 C95.33,274.97 96.22,273.03 97.00,271.60 C97.78,270.17 98.28,269.08 99.60,268.30 Z" fill="#0a10c0" transform="translate(113,282) scale(1.1) translate(-113,-282)"/>
  </g>
  <g filter="url(#bl15)">
    <path d="M56.60,269.00 C58.27,268.90 59.90,269.23 61.40,269.50 C62.90,269.77 64.20,269.90 65.60,270.60 C67.00,271.30 68.48,272.48 69.80,273.70 C71.12,274.92 72.53,276.48 73.50,277.90 C74.47,279.32 75.17,280.88 75.60,282.20 C76.03,283.52 76.28,284.58 76.10,285.80 C75.92,287.02 75.28,288.43 74.50,289.50 C73.72,290.57 72.27,291.23 71.40,292.20 C70.53,293.17 69.92,294.25 69.30,295.30 C68.68,296.35 68.67,297.70 67.70,298.50 C66.73,299.30 64.90,299.83 63.50,300.10 C62.10,300.37 60.88,300.37 59.30,300.10 C57.72,299.83 55.58,299.22 54.00,298.50 C52.42,297.78 51.12,296.95 49.80,295.80 C48.48,294.65 47.07,293.08 46.10,291.60 C45.13,290.12 44.40,288.47 44.00,286.90 C43.60,285.33 43.62,283.87 43.70,282.20 C43.78,280.53 43.92,278.48 44.50,276.90 C45.08,275.32 46.05,273.83 47.20,272.70 C48.35,271.57 49.83,270.72 51.40,270.10 C52.97,269.48 54.93,269.10 56.60,269.00 Z" fill="#0a10fa"/>
    <path d="M99.60,268.30 C100.92,267.52 102.97,267.08 104.90,266.90 C106.83,266.72 109.27,266.88 111.20,267.20 C113.13,267.52 114.78,268.20 116.50,268.80 C118.22,269.40 119.92,270.07 121.50,270.80 C123.08,271.53 124.70,272.27 126.00,273.20 C127.30,274.13 128.52,275.25 129.30,276.40 C130.08,277.55 130.55,278.85 130.70,280.10 C130.85,281.35 130.65,282.83 130.20,283.90 C129.75,284.97 128.88,285.73 128.00,286.50 C127.12,287.27 125.95,287.75 124.90,288.50 C123.85,289.25 122.75,290.18 121.70,291.00 C120.65,291.82 119.73,292.67 118.60,293.40 C117.47,294.13 116.22,294.82 114.90,295.40 C113.58,295.98 112.20,296.65 110.70,296.90 C109.20,297.15 107.40,297.17 105.90,296.90 C104.40,296.63 103.00,296.00 101.70,295.30 C100.40,294.60 99.15,293.83 98.10,292.70 C97.05,291.57 96.02,290.08 95.40,288.50 C94.78,286.92 94.48,285.13 94.40,283.20 C94.32,281.27 94.47,278.83 94.90,276.90 C95.33,274.97 96.22,273.03 97.00,271.60 C97.78,270.17 98.28,269.08 99.60,268.30 Z" fill="#0a10fa"/>
  </g>
  <g fill="#0808b0" filter="url(#bl2)" opacity="0.75">
    <path d="M52,288 C54,284 56,281 58,279 C59,281 57,284 55,288 Z"/>
    <path d="M60,284 C62,281 63,278 65,276 C66,279 67,283 66,286 C64,285 62,285 60,284 Z"/>
    <circle cx="121" cy="272" r="1.3"/><circle cx="113" cy="273" r="1"/><circle cx="125" cy="280" r="1.1"/>
    <circle cx="115" cy="281" r="1"/><circle cx="108" cy="285" r="1"/><circle cx="117" cy="286" r="1"/>
  </g>
  <!-- row2 CDK6 col1 -->
  <ellipse cx="59.8" cy="336" rx="17.2" ry="17.5" fill="url(#rg1)" filter="url(#bl1)"/>
  <ellipse cx="59.5" cy="335.5" rx="15" ry="15" fill="#5a0000" filter="url(#tex2)"/>
  <g filter="url(#bl15)" fill="#ff1010">
    <path d="M50.5,348 C54,346.5 59,347 63,348.5 C64.5,351 62,353.5 58,353.5 C54,353.3 51,351.5 50.5,348 Z"/>
    <path d="M68.5,344.5 C70.5,342 73,339.5 74.8,337.5 C76.5,339 76.5,342.5 75,345 C73,347 69.5,347.5 68.5,344.5 Z"/>
    <path d="M72.5,323.5 C74.5,325 76,328 76.8,330.5 C77,332 76.5,333 75.8,332.8 C74.5,330.5 73.3,327 72.5,323.5 Z" opacity="0.8"/>
    <ellipse cx="44.3" cy="335.5" rx="1.2" ry="1.6"/>
  </g>
  <!-- row2 col2 -->
  <ellipse cx="112.5" cy="333.2" rx="19.2" ry="17.6" fill="url(#rg2)" filter="url(#bl1)"/>
  <ellipse cx="111.5" cy="334" rx="15" ry="13.5" fill="#3a0000" filter="url(#tex4)" opacity="0.62"/>
  <!-- row3 merge col1 -->
  <ellipse cx="59.8" cy="387" rx="17" ry="17.3" fill="none" stroke="#5a0830" stroke-width="1.4" filter="url(#bl15)" opacity="0.6"/>
  <g filter="url(#bl15)">
    <path d="M56.60,269.00 C58.27,268.90 59.90,269.23 61.40,269.50 C62.90,269.77 64.20,269.90 65.60,270.60 C67.00,271.30 68.48,272.48 69.80,273.70 C71.12,274.92 72.53,276.48 73.50,277.90 C74.47,279.32 75.17,280.88 75.60,282.20 C76.03,283.52 76.28,284.58 76.10,285.80 C75.92,287.02 75.28,288.43 74.50,289.50 C73.72,290.57 72.27,291.23 71.40,292.20 C70.53,293.17 69.92,294.25 69.30,295.30 C68.68,296.35 68.67,297.70 67.70,298.50 C66.73,299.30 64.90,299.83 63.50,300.10 C62.10,300.37 60.88,300.37 59.30,300.10 C57.72,299.83 55.58,299.22 54.00,298.50 C52.42,297.78 51.12,296.95 49.80,295.80 C48.48,294.65 47.07,293.08 46.10,291.60 C45.13,290.12 44.40,288.47 44.00,286.90 C43.60,285.33 43.62,283.87 43.70,282.20 C43.78,280.53 43.92,278.48 44.50,276.90 C45.08,275.32 46.05,273.83 47.20,272.70 C48.35,271.57 49.83,270.72 51.40,270.10 C52.97,269.48 54.93,269.10 56.60,269.00 Z" fill="#3424f4" transform="translate(0,102.3) translate(60,285) scale(1.02) translate(-60,-285)"/>
  </g>
  <g filter="url(#bl15)" fill="#ff1848">
    <path d="M51.5,400 C55,398.5 60,399 63.5,401 C64.5,403.5 61,405 57,404.5 C53.5,404 51,402.5 51.5,400 Z"/>
    <path d="M69.5,395 C72,393.5 74,391 75,389 C76.3,391 75.8,394.5 74,396.5 C72,398 69.5,397.5 69.5,395 Z"/>
    <path d="M57.5,370 C64,370 71,373.5 74,378 C75.3,380 75.7,382 75.6,383.5" fill="none" stroke="#ff1848" stroke-width="1.3"/>
    <ellipse cx="43.8" cy="386" rx="1.2" ry="1.6"/>
  </g>
  <path d="M52,389 C54,386 56,383 58,381 C59,383 57,386 55,389 Z M60,386 C62,383 63,380 65,378 C66,381 66.5,385 66,388 C64,387 62,387 60,386 Z" fill="#1a10b0" filter="url(#bl2)" opacity="0.7"/>
  <!-- row3 col2 -->
  <ellipse cx="112.9" cy="384.4" rx="19.3" ry="17.8" fill="url(#rg3)" filter="url(#bl1)"/>
  <ellipse cx="112.5" cy="384.5" rx="16" ry="14.6" fill="#b83cd8" filter="url(#tex3)"/>
  <path d="M131,385 C131,393 126,399 118,401.5 C122,398 126,393 127.5,386 Z" fill="#f01040" filter="url(#bl15)"/>
  <path d="M104,368 C110,366 119,366 125,369 C129,372 131,376 131.5,380 C128,376 124,372 118,370 C113,369 108,369 104,368 Z" fill="#f01040" filter="url(#bl15)"/>
  <rect x="97" y="405.2" width="29.8" height="2.1" fill="#f4f4f4"/>
</g>
<g font-size="11.5" text-anchor="middle">
  <text x="59.4" y="425">MMP</text>
  <text x="59.2" y="438" font-size="11">-low</text>
  <text x="112.5" y="425">MMP</text>
  <text x="112.5" y="438" font-size="11">-high</text>
</g>
<line x1="32" y1="444.5" x2="139.5" y2="444.5" stroke="#000" stroke-width="1.2"/>
<text x="85.6" y="462.5" font-size="11.3" text-anchor="middle">CD38<tspan font-size="6" dy="-4.5">-</tspan><tspan dy="4.5"> HSPC</tspan></text>

<!-- Scatter plot -->
<g id="scatter">
  <g stroke="#000" stroke-width="1.5">
    <line x1="228" y1="258" x2="228" y2="413.3"/>
    <line x1="227.3" y1="412.6" x2="329.3" y2="412.6"/>
    <line x1="224.2" y1="261.9" x2="228" y2="261.9"/>
    <line x1="224.2" y1="299.6" x2="228" y2="299.6"/>
    <line x1="224.2" y1="337.3" x2="228" y2="337.3"/>
    <line x1="224.2" y1="375" x2="228" y2="375"/>
    <line x1="224.2" y1="412.6" x2="228" y2="412.6"/>
    <line x1="253.1" y1="412.6" x2="253.1" y2="416.7"/>
    <line x1="303.4" y1="412.6" x2="303.4" y2="416.7"/>
  </g>
  <g font-size="10.4" text-anchor="end" class="dg">
    <text x="220.5" y="265.5">200</text>
    <text x="220.5" y="303.2">150</text>
    <text x="220.5" y="340.9">100</text>
    <text x="220.5" y="378.6">50</text>
    <text x="220.5" y="416.3">0</text>
  </g>
  <text transform="translate(178.7,335.3) rotate(-90) scale(0.745,1)" font-size="12.3" text-anchor="middle" class="nb">CDK6 (per nuclear area)</text>
  <text transform="translate(192.9,334.3) rotate(-90) scale(0.761,1)" font-size="12" text-anchor="middle" class="nb">fluorescence intensity</text>
  <line x1="249.2" y1="279.3" x2="299.6" y2="279.3" stroke="#111" stroke-width="1.5"/>
  <polygon points="272.30,272.10 272.80,273.31 274.11,273.41 273.11,274.26 273.42,275.54 272.30,274.85 271.18,275.54 271.49,274.26 270.49,273.41 271.80,273.31" fill="#111"/><polygon points="276.20,272.10 276.70,273.31 278.01,273.41 277.01,274.26 277.32,275.54 276.20,274.85 275.08,275.54 275.39,274.26 274.39,273.41 275.70,273.31" fill="#111"/>
  <text class="lb" x="191.3" y="430.4" font-size="10.4">MMP:</text>
  <text class="lb" x="252.8" y="430.4" font-size="10.4" text-anchor="middle">Low</text>
  <text class="lb" x="303.6" y="430.4" font-size="10.4" text-anchor="middle">High</text>
  <!-- red dots -->
  <g fill="#a8002a">
<circle cx="253" cy="328.2" r="2.3"/>
<circle cx="258" cy="333.6" r="2.3"/>
<circle cx="248.3" cy="336.2" r="2.3"/>
<circle cx="253.1" cy="339.6" r="2.3"/>
<circle cx="258" cy="343.1" r="2.3"/>
<circle cx="248.3" cy="347.8" r="2.3"/>
<circle cx="253.1" cy="348.8" r="2.3"/>
<circle cx="258" cy="348" r="2.3"/>
<circle cx="238.7" cy="356.9" r="2.3"/>
<circle cx="243.5" cy="359.1" r="2.3"/>
<circle cx="248.3" cy="359.6" r="2.3"/>
<circle cx="253.1" cy="356.5" r="2.3"/>
<circle cx="257.9" cy="357.5" r="2.3"/>
<circle cx="262.7" cy="359.1" r="2.3"/>
<circle cx="267.5" cy="357.5" r="2.3"/>
<circle cx="253.1" cy="361.5" r="2.3"/>
<circle cx="257.9" cy="364" r="2.3"/>
<circle cx="248.3" cy="367.1" r="2.3"/>
<circle cx="262.7" cy="366.2" r="2.3"/>
<circle cx="253.1" cy="368.8" r="2.3"/>
<circle cx="257.9" cy="369.7" r="2.3"/>
<circle cx="243.5" cy="370.7" r="2.3"/>
<circle cx="248.3" cy="371.9" r="2.3"/>
<circle cx="262.7" cy="371.2" r="2.3"/>
<circle cx="243.5" cy="375.8" r="2.3"/>
<circle cx="253.1" cy="375" r="2.3"/>
<circle cx="257.9" cy="374.8" r="2.3"/>
<circle cx="262.7" cy="377.4" r="2.3"/>
</g>
  <!-- blue squares -->
  <g fill="none" stroke="#2d4a88" stroke-width="1.25">
<rect x="301.25" y="290.65" width="4.3" height="4.3"/>
<rect x="306.25" y="301.15" width="4.3" height="4.3"/>
<rect x="296.45" y="303.65" width="4.3" height="4.3"/>
<rect x="301.25" y="310.65" width="4.3" height="4.3"/>
<rect x="315.75" y="315.75" width="4.3" height="4.3"/>
<rect x="315.75" y="321.35" width="4.3" height="4.3"/>
<rect x="286.65" y="321.15" width="4.3" height="4.3"/>
<rect x="296.45" y="320.15" width="4.3" height="4.3"/>
<rect x="306.25" y="323.35" width="4.3" height="4.3"/>
<rect x="301.25" y="328.45" width="4.3" height="4.3"/>
<rect x="296.45" y="333.95" width="4.3" height="4.3"/>
<rect x="306.25" y="333.95" width="4.3" height="4.3"/>
<rect x="286.65" y="344.05" width="4.3" height="4.3"/>
<rect x="306.25" y="344.05" width="4.3" height="4.3"/>
<rect x="315.75" y="341.15" width="4.3" height="4.3"/>
<rect x="315.75" y="346.55" width="4.3" height="4.3"/>
<rect x="296.45" y="348.35" width="4.3" height="4.3"/>
<rect x="301.25" y="353.75" width="4.3" height="4.3"/>
<rect x="286.65" y="359.85" width="4.3" height="4.3"/>
<rect x="315.75" y="358.55" width="4.3" height="4.3"/>
<rect x="296.45" y="361.95" width="4.3" height="4.3"/>
<rect x="306.25" y="361.95" width="4.3" height="4.3"/>
<rect x="296.45" y="382.15" width="4.3" height="4.3"/>
<rect x="296.45" y="387.85" width="4.3" height="4.3"/>
<rect x="306.25" y="383.65" width="4.3" height="4.3"/>
</g>
  <!-- means/error bars -->
  <g stroke="#000" stroke-width="1.5">
    <line x1="236.3" y1="358.8" x2="269.6" y2="358.8"/>
    <line x1="253.1" y1="345.3" x2="253.1" y2="372.3"/>
    <line x1="245" y1="345.3" x2="261.3" y2="345.3"/>
    <line x1="245" y1="372.3" x2="261.3" y2="372.3"/>
    <line x1="287" y1="341.4" x2="320.2" y2="341.4"/>
    <line x1="303.4" y1="315.4" x2="303.4" y2="367.3"/>
    <line x1="295.2" y1="315.4" x2="311.6" y2="315.4"/>
    <line x1="295.2" y1="367.3" x2="311.6" y2="367.3"/>
  </g>
</g>

<!-- border -->
<rect x="0" y="0" width="520" height="1.6" fill="#000"/>
<rect x="0" y="0" width="1.7" height="475" fill="#000"/>
<rect x="518.2" y="0" width="1.8" height="475" fill="#000"/>
<rect x="0" y="473" width="520" height="2" fill="#000"/>
</svg>
</body></html>
